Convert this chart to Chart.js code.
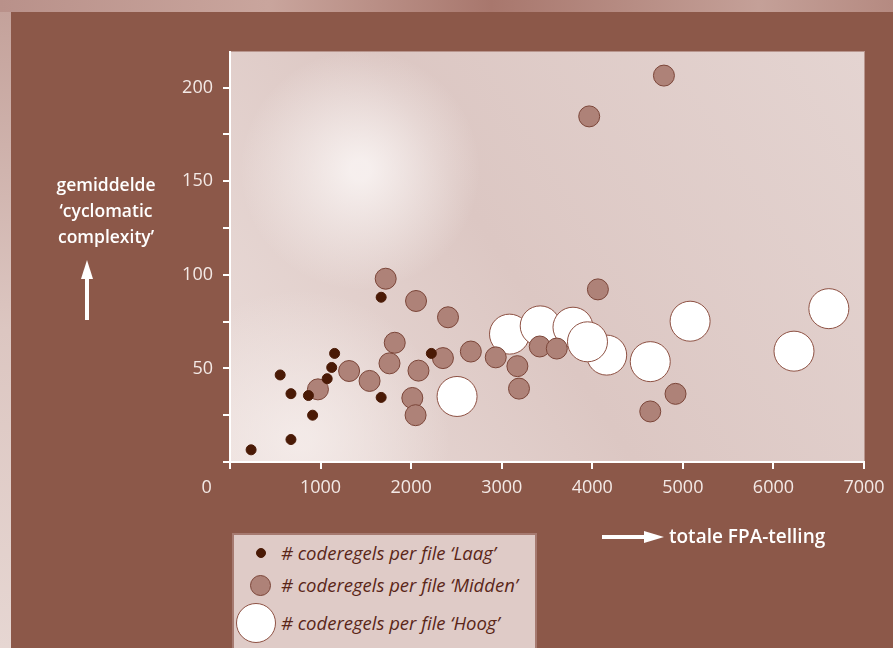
<!DOCTYPE html>
<html>
<head>
<meta charset="utf-8">
<script src="https://cdn.jsdelivr.net/npm/chart.js@4.4.1/dist/chart.umd.min.js"></script>
<style>
    html, body {
        margin: 0;
        padding: 0;
    }
    body {
        width: 893px;
        height: 648px;
        position: relative;
        overflow: hidden;
        background: linear-gradient(90deg, #b9918a 0%, #c9a59d 30%, #a8776d 55%, #c4a098 85%, #b58a81 100%);
    }
    #frame {
        position: absolute;
        left: 11px;
        top: 12px;
        right: 0;
        bottom: 0;
        background: #8c5849;
    }
    #leftStrip {
        position: absolute;
        left: 0;
        top: 12px;
        width: 11px;
        bottom: 0;
        background: linear-gradient(180deg, #c4a29b 0%, #dcc6c1 50%, #e6d6d2 100%);
    }
    #chart {
        position: absolute;
        left: 0;
        top: 0;
    }
    .ytitle {
        position: absolute;
        left: 35px;
        top: 171px;
        width: 142px;
        text-align: center;
        color: #fff;
        font: 600 17.5px "Open Sans", sans-serif;
        line-height: 26px;
    }
    .xtitle {
        position: absolute;
        left: 669px;
        top: 523px;
        color: #fff;
        font: 600 19px "Open Sans", sans-serif;
    }
    .legend {
        position: absolute;
        left: 232px;
        top: 533px;
        width: 305px;
        height: 130px;
        background: #dfcbc7;
        border: 2px solid #a67a70;
        box-sizing: border-box;
    }
    .legend .item {
        position: absolute;
        left: 47px;
        color: #5a2618;
        font: italic 18.5px "Open Sans", sans-serif;
        white-space: nowrap;
    }
    .legend .dot {
        position: absolute;
        border-radius: 50%;
        box-sizing: border-box;
    }
</style>
</head>
<body>
<div id="frame"></div>
<div id="leftStrip"></div>
<canvas id="chart" width="893" height="648"></canvas>

<div class="ytitle">gemiddelde<br>‘cyclomatic<br>complexity’</div>
<svg style="position:absolute;left:80px;top:260px" width="14" height="60">
    <rect x="5" y="16" width="4" height="44" fill="#fff"/>
    <polygon points="7,0 1,19 13,19" fill="#fff"/>
</svg>

<svg style="position:absolute;left:602px;top:530px" width="62" height="14">
    <rect x="0" y="5" width="44" height="4" fill="#fff"/>
    <polygon points="62,7 42,1 42,13" fill="#fff"/>
</svg>
<div class="xtitle">totale FPA-telling</div>

<div class="legend" id="legend"></div>

<script>
// Series: [totale FPA-telling, gemiddelde cyclomatic complexity]
const laagX = [233, 673, 554, 673, 866, 912, 1073, 1123, 1155, 1669, 1669, 2223];
const laagY = [6.5, 12, 46.5, 36.5, 35.5, 25, 44.5, 50.5, 58, 88, 34.5, 58];

const middenX = [971, 1315, 1541, 1719, 1819, 1761, 2054, 2081, 2013, 2049, 2407, 2351,
                 2659, 2934, 3173, 3191, 3420, 3608, 3966, 4062, 4791, 4640, 4919];
const middenY = [38.8, 48.6, 43.3, 97.9, 63.7, 52.7, 86, 48.8, 34.2, 25, 77.3, 55.5,
                 59, 55.9, 51.2, 39.2, 61.7, 60.6, 184.6, 92.2, 206.4, 27, 36.4];

const hoogX = [2507, 3086, 3425, 3787, 4159, 3947, 4640, 5080, 6227, 6612];
const hoogY = [35, 68.3, 72.7, 72, 57.1, 64.2, 53.6, 75.2, 59.2, 81.9];

const seriesLabels = [
    "# coderegels per file ‘Laag’",
    "# coderegels per file ‘Midden’",
    "# coderegels per file ‘Hoog’"
];

const xTicks = [0, 1000, 2000, 3000, 4000, 5000, 6000, 7000];
const yLabelTicks = [50, 100, 150, 200];

function toPoints(xs, ys) {
    return xs.map((x, i) => ({ x: x, y: ys[i] }));
}

const styles = [
    { fill: '#4a1a06', border: '#4a1a06', radius: 5 },
    { fill: '#ae8278', border: '#7b4538', radius: 10.5 },
    { fill: '#ffffff', border: '#8e5143', radius: 20 }
];

// Plot area background, soft pinkish texture
const plotBackground = {
    id: 'plotBackground',
    beforeDraw(chart) {
        const { ctx, chartArea: a } = chart;
        ctx.save();
        let g = ctx.createLinearGradient(a.left, a.bottom, a.right, a.top);
        g.addColorStop(0, '#eadcd9');
        g.addColorStop(0.45, '#dcc7c3');
        g.addColorStop(1, '#e4d4d1');
        ctx.fillStyle = g;
        ctx.fillRect(a.left, a.top - 1, a.right - a.left, a.bottom - a.top + 1);

        // pale vertical glow in the upper left
        let r = ctx.createRadialGradient(360, 170, 10, 360, 170, 120);
        r.addColorStop(0, 'rgba(250,245,244,0.85)');
        r.addColorStop(1, 'rgba(250,245,244,0)');
        ctx.fillStyle = r;
        ctx.fillRect(a.left, a.top, a.right - a.left, a.bottom - a.top);

        let r2 = ctx.createRadialGradient(300, 440, 10, 300, 440, 150);
        r2.addColorStop(0, 'rgba(246,238,236,0.8)');
        r2.addColorStop(1, 'rgba(246,238,236,0)');
        ctx.fillStyle = r2;
        ctx.fillRect(a.left, a.top, a.right - a.left, a.bottom - a.top);

        ctx.strokeStyle = '#b8958d';
        ctx.lineWidth = 1;
        ctx.strokeRect(a.left + 0.5, a.top - 0.5, a.right - a.left, a.bottom - a.top);
        ctx.restore();
    }
};

const datasets = [
    toPoints(laagX, laagY),
    toPoints(middenX, middenY),
    toPoints(hoogX, hoogY)
].map((data, i) => ({
    label: seriesLabels[i],
    data: data,
    backgroundColor: styles[i].fill,
    borderColor: styles[i].border,
    borderWidth: 1,
    pointRadius: styles[i].radius,
    pointHoverRadius: styles[i].radius
}));

new Chart(document.getElementById('chart'), {
    type: 'scatter',
    data: { datasets: datasets },
    plugins: [plotBackground],
    options: {
        responsive: false,
        devicePixelRatio: 1,
        animation: false,
        layout: {
            padding: { left: 160, top: 52, right: 29, bottom: 146 }
        },
        plugins: {
            legend: { display: false },
            tooltip: { enabled: false }
        },
        scales: {
            x: {
                type: 'linear',
                min: 0,
                max: 7000,
                afterFit: (scale) => { scale.height = 40; },
                afterBuildTicks: (scale) => {
                    scale.ticks = xTicks.map(v => ({ value: v }));
                },
                ticks: {
                    color: '#f3e9e6',
                    font: { family: 'Open Sans', size: 18 },
                    padding: 8,
                    maxRotation: 0,
                    // the zero label sits left of its tick in the reference
                    callback: (v) => v === 0 ? '0          ' : String(v)
                },
                grid: {
                    drawOnChartArea: false,
                    drawTicks: true,
                    tickLength: 7,
                    color: '#ffffff',
                    lineWidth: 2
                },
                border: { color: '#ffffff', width: 2 }
            },
            y: {
                type: 'linear',
                min: 0,
                max: 219,
                afterFit: (scale) => { scale.width = 70; },
                ticks: {
                    stepSize: 25,
                    includeBounds: false,
                    color: '#f3e9e6',
                    font: { family: 'Open Sans', size: 18 },
                    padding: 10,
                    callback: (v) => yLabelTicks.includes(v) ? String(v) : ''
                },
                grid: {
                    drawOnChartArea: false,
                    drawTicks: true,
                    tickLength: 7,
                    color: '#ffffff',
                    lineWidth: 2
                },
                border: { color: '#ffffff', width: 2 }
            }
        }
    }
});

// HTML legend with the same marker sizes as the chart
const legendTops = [18, 50, 88];
const legend = document.getElementById('legend');
seriesLabels.forEach((label, i) => {
    const s = styles[i];
    const dot = document.createElement('div');
    dot.className = 'dot';
    const size = s.radius * 2;
    const cx = [27, 26, 22][i];
    dot.style.width = size + 'px';
    dot.style.height = size + 'px';
    dot.style.left = (cx - s.radius) + 'px';
    dot.style.top = (legendTops[i] - s.radius) + 'px';
    dot.style.background = s.fill;
    dot.style.border = '1px solid ' + s.border;
    legend.appendChild(dot);

    const item = document.createElement('div');
    item.className = 'item';
    item.textContent = label;
    item.style.top = (legendTops[i] - 13) + 'px';
    legend.appendChild(item);
});
</script>
</body>
</html>
